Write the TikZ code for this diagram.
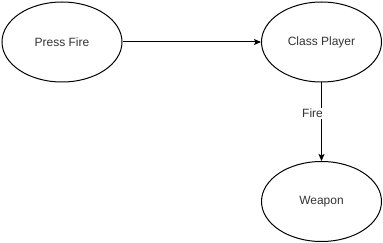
\documentclass[tikz,border=0pt]{standalone}
\usepackage{fontspec}
\setmainfont{Liberation Sans}
\usetikzlibrary{shapes.geometric,arrows.meta}
\definecolor{txt}{HTML}{333333}
\begin{document}
\begin{tikzpicture}[x=1pt,y=-1pt,
  state/.style={ellipse,draw=black,line width=1pt,minimum width=120pt,minimum height=80pt,inner sep=0pt,
    font=\fontsize{12}{14}\selectfont,text=txt},
  link/.style={draw=black,line width=1pt,-{Stealth[length=7pt,width=6pt,inset=1.5pt]}},
  lbl/.style={fill=white,inner sep=1pt,font=\fontsize{12}{14}\selectfont,text=txt}]
  \useasboundingbox (0,0) rectangle (383,243);
  \node[state] (press) at (62,42) {Press Fire};
  \node[state] (player) at (321.5,42) {Class Player};
  \node[state] (weapon) at (321.5,201.5) {Weapon};
  \draw[link] (press) -- (player);
  \draw[link] (player) -- node[lbl,pos=0.39,xshift=-9pt] {Fire} (weapon);
\end{tikzpicture}
\end{document}
